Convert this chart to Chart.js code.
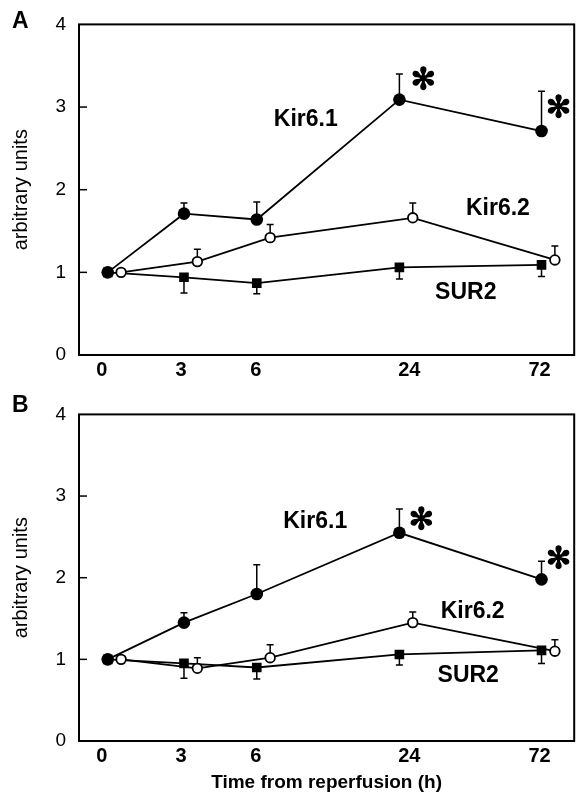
<!DOCTYPE html>
<html>
<head>
<meta charset="utf-8">
<script src="https://cdn.jsdelivr.net/npm/chart.js@4.4.1/dist/chart.umd.min.js"></script>
<style>
  body { margin: 0; background: #fff; }
  #wrap { position: relative; width: 581px; height: 797px; }
  canvas { position: absolute; left: 0; }
</style>
</head>
<body>
<div id="wrap">
  <canvas id="panelA" width="581" height="390" style="top:0"></canvas>
  <canvas id="panelB" width="581" height="407" style="top:390px"></canvas>
</div>
<script>
// time points (h) and where they sit on the non-proportional time axis
const hours = ['0', '3', '6', '24', '72'];
const hourSlot = [0.58, 2.12, 3.59, 6.47, 9.34];
const labelSlot = [0.46, 2.06, 3.57, 6.67, 9.30];
const yTicks = [0, 1, 2, 3, 4];

// panel A
const kir61A = [1.0, 1.71, 1.64, 3.09, 2.71];
const kir61AErr = [0, 0.13, 0.21, 0.31, 0.48];
const kir62A = [1.0, 1.13, 1.42, 1.66, 1.15];
const kir62AErr = [0, 0.15, 0.16, 0.18, 0.17];
const sur2A = [1.0, 0.94, 0.87, 1.06, 1.09];
const sur2AErr = [0, 0.19, 0.13, 0.14, 0.14];

// panel B
const kir61B = [1.0, 1.45, 1.80, 2.55, 1.98];
const kir61BErr = [0, 0.12, 0.36, 0.29, 0.22];
const kir62B = [1.0, 0.89, 1.02, 1.45, 1.10];
const kir62BErr = [0, 0.13, 0.16, 0.13, 0.14];
const sur2B = [1.0, 0.95, 0.90, 1.06, 1.11];
const sur2BErr = [0, 0.18, 0.14, 0.13, 0.16];

Chart.defaults.font.family = '"Liberation Sans", Arial, Helvetica, sans-serif';
Chart.defaults.color = '#000';

function pts(vals, shift) {
  return vals.map((v, i) => ({ x: hourSlot[i] + shift, y: v }));
}

// frame, inward y ticks, one-sided error bars, series names, asterisks, panel letter
const panelExtras = {
  id: 'panelExtras',
  beforeDatasetsDraw(chart) {
    const ctx = chart.ctx;
    const ys = chart.scales.y;
    ctx.save();
    ctx.strokeStyle = '#000';
    ctx.lineWidth = 1.5;
    chart.data.datasets.forEach((ds, di) => {
      const meta = chart.getDatasetMeta(di);
      meta.data.forEach((el, j) => {
        const e = ds.err[j];
        if (!e) return;
        const yEnd = ys.getPixelForValue(ds.data[j].y + ds.errDir * e);
        ctx.beginPath();
        ctx.moveTo(el.x, el.y);
        ctx.lineTo(el.x, yEnd);
        ctx.moveTo(el.x - 3.5, yEnd);
        ctx.lineTo(el.x + 3.5, yEnd);
        ctx.stroke();
      });
    });
    ctx.restore();
  },
  afterDraw(chart, args, o) {
    const ctx = chart.ctx;
    const a = chart.chartArea;
    const xs = chart.scales.x, ys = chart.scales.y;
    ctx.save();
    ctx.strokeStyle = '#000';
    ctx.lineWidth = 2;
    ctx.strokeRect(a.left, a.top, a.right - a.left, a.bottom - a.top);
    ctx.lineWidth = 1.5;
    [1, 2, 3].forEach(v => {
      const y = ys.getPixelForValue(v);
      ctx.beginPath();
      ctx.moveTo(a.left, y);
      ctx.lineTo(a.left + 8, y);
      ctx.stroke();
    });

    ctx.fillStyle = '#000';
    ctx.textAlign = 'center';
    ctx.textBaseline = 'middle';
    ctx.font = 'bold 23px "Liberation Sans", Arial, sans-serif';
    o.names.forEach(n => {
      ctx.fillText(n.text, xs.getPixelForValue(n.x), ys.getPixelForValue(n.y));
    });

    const k = chart.getDatasetMeta(0).data;
    ctx.font = 'bold 30px "DejaVu Sans", sans-serif';
    ctx.lineWidth = 1.3;
    o.stars.forEach(s => {
      const p = k[s.i];
      ctx.fillText('\u273B', p.x + s.dx, p.y + s.dy);
      ctx.strokeText('\u273B', p.x + s.dx, p.y + s.dy);
    });

    ctx.textAlign = 'left';
    ctx.font = 'bold 23px "Liberation Sans", Arial, sans-serif';
    ctx.fillText(o.letter, 12, o.letterY);
    ctx.restore();
  }
};

function makePanel(id, d, o) {
  const line = { borderColor: '#000', borderWidth: 1.8, tension: 0, fill: false };
  return new Chart(document.getElementById(id), {
    type: 'line',
    data: {
      datasets: [
        Object.assign({ label: 'Kir6.1', data: pts(d.kir61, 0), err: d.kir61Err, errDir: 1,
          pointStyle: 'circle', pointRadius: 6.3, pointBackgroundColor: '#000', pointBorderColor: '#000', pointBorderWidth: 0 }, line),
        Object.assign({ label: 'Kir6.2', data: pts(d.kir62, 0.27), err: d.kir62Err, errDir: 1,
          pointStyle: 'circle', pointRadius: 4.8, pointBackgroundColor: '#fff', pointBorderColor: '#000', pointBorderWidth: 1.8 }, line),
        Object.assign({ label: 'SUR2', data: pts(d.sur2, 0), err: d.sur2Err, errDir: -1,
          pointStyle: 'rect', pointRadius: 6.8, pointBackgroundColor: '#000', pointBorderColor: '#000', pointBorderWidth: 0 }, line)
      ]
    },
    options: {
      responsive: false,
      animation: false,
      events: [],
      layout: { padding: { left: 0, top: o.top, right: 3, bottom: 0 } },
      plugins: {
        legend: { display: false },
        tooltip: { enabled: false },
        panelExtras: { names: o.names, stars: o.stars, letter: o.letter, letterY: o.letterY }
      },
      scales: {
        x: {
          type: 'linear', min: 0, max: 10,
          grid: { display: false, drawTicks: false },
          border: { display: false },
          afterBuildTicks: s => { s.ticks = labelSlot.map(v => ({ value: v })); },
          ticks: {
            callback: (v, i) => hours[i],
            font: { size: 20, weight: 'bold' },
            color: '#000', padding: 3, maxRotation: 0, autoSkip: false
          },
          title: {
            display: !!o.xTitle, text: o.xTitle || '',
            font: { size: 19, weight: 'bold' }, color: '#000',
            padding: { top: 0, bottom: 3 }
          },
          afterFit: s => { s.height = o.xh; }
        },
        y: {
          min: 0, max: 4,
          afterBuildTicks: s => { s.ticks = yTicks.map(v => ({ value: v })); },
          grid: { display: false, drawTicks: false },
          border: { display: false },
          ticks: { font: { size: 19 }, color: '#000', padding: 13 },
          title: {
            display: true, text: 'arbitrary units',
            font: { size: 20 }, color: '#000',
            padding: { top: 9, bottom: 0 }
          },
          afterFit: s => { s.width = 79; }
        }
      }
    },
    plugins: [panelExtras]
  });
}

makePanel('panelA',
  { kir61: kir61A, kir61Err: kir61AErr, kir62: kir62A, kir62Err: kir62AErr, sur2: sur2A, sur2Err: sur2AErr },
  {
    top: 22, xh: 35, letter: 'A', letterY: 22,
    names: [
      { text: 'Kir6.1', x: 4.58, y: 2.85 },
      { text: 'Kir6.2', x: 8.46, y: 1.77 },
      { text: 'SUR2', x: 7.81, y: 0.76 }
    ],
    stars: [{ i: 3, dx: 24, dy: -18 }, { i: 4, dx: 17, dy: -22 }]
  });

makePanel('panelB',
  { kir61: kir61B, kir61Err: kir61BErr, kir62: kir62B, kir62Err: kir62BErr, sur2: sur2B, sur2Err: sur2BErr },
  {
    top: 19, xh: 56, letter: 'B', letterY: 16, xTitle: 'Time from reperfusion (h)',
    names: [
      { text: 'Kir6.1', x: 4.77, y: 2.69 },
      { text: 'Kir6.2', x: 7.95, y: 1.58 },
      { text: 'SUR2', x: 7.86, y: 0.80 }
    ],
    stars: [{ i: 3, dx: 22, dy: -12 }, { i: 4, dx: 17, dy: -19 }]
  });
</script>
</body>
</html>
